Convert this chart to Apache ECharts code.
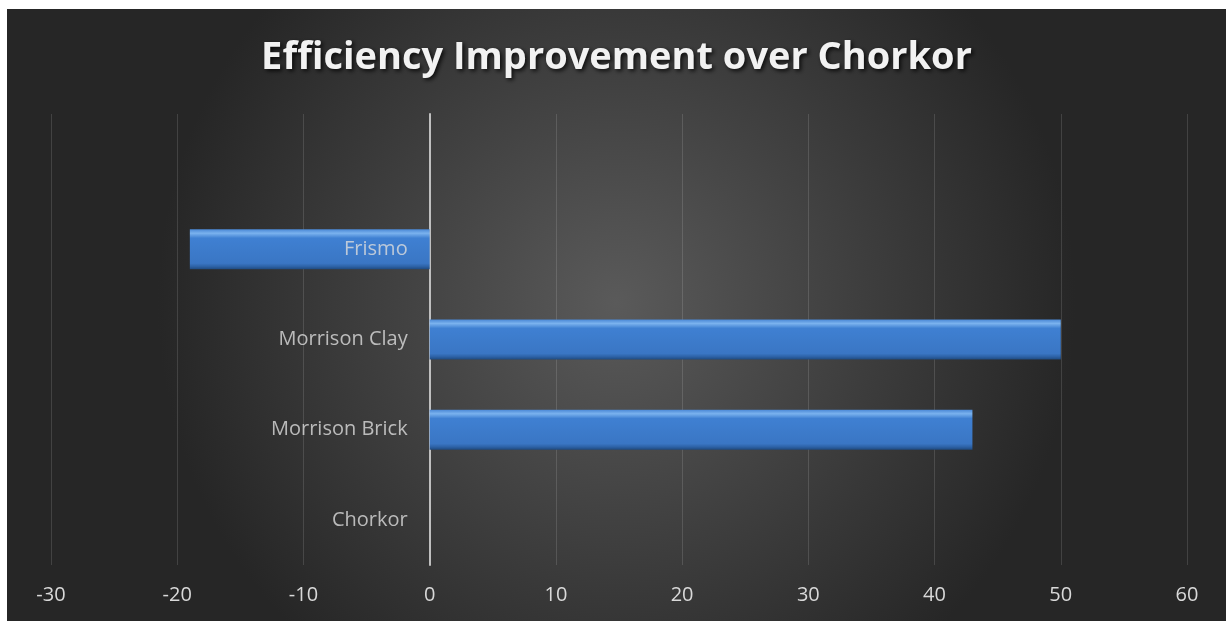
<!DOCTYPE html>
<html>
<head>
<meta charset="utf-8">
<script src="https://cdn.jsdelivr.net/npm/echarts@6/dist/echarts.min.js"></script>
<style>
html,body{margin:0;padding:0;background:#fff;width:1226px;height:621px;overflow:hidden;}
#c{position:absolute;left:7px;top:9px;width:1219px;height:612px;}
</style>
</head>
<body>
<div id="c"></div>
<script>
const titleText = 'Efficiency Improvement over Chorkor';
const categories = ['Chorkor', 'Morrison Brick', 'Morrison Clay', 'Frismo'];
const values = [0, 43, 50, -19];
const xMin = -30, xMax = 60, xStep = 10;

const chart = echarts.init(document.getElementById('c'), null, {renderer: 'canvas'});
const font = '"Open Sans", "DejaVu Sans", sans-serif';
chart.setOption({
  backgroundColor: {
    type: 'radial', x: 0.5, y: 0.48, r: 0.75,
    colorStops: [
      {offset: 0, color: '#5a5a5a'},
      {offset: 1, color: '#262626'}
    ]
  },
  title: {
    text: titleText,
    left: 'center',
    top: 25,
    textStyle: {
      color: '#f2f2f2', fontSize: 38, fontWeight: 'bold', fontFamily: font,
      textShadowColor: 'rgba(0,0,0,0.8)', textShadowBlur: 4, textShadowOffsetX: 2, textShadowOffsetY: 2
    }
  },
  grid: {left: 44, right: 39, top: 105, bottom: 56, containLabel: false, outerBoundsMode: 'none'},
  xAxis: {
    type: 'value', min: xMin, max: xMax, interval: xStep,
    axisLine: {show: false}, axisTick: {show: false},
    splitLine: {lineStyle: {color: 'rgba(255,255,255,0.13)', width: 1}},
    axisLabel: {color: '#d9d9d9', fontSize: 20, fontFamily: font, margin: 20}
  },
  yAxis: {
    type: 'category', data: categories, max: 4,
    axisLine: {onZero: true, lineStyle: {color: '#bfbfbf', width: 2}},
    axisTick: {show: false},
    axisLabel: {show: false}
  },
  series: [{
    type: 'bar', data: values, barWidth: 40,
    itemStyle: {
      color: {
        type: 'linear', x: 0, y: 0, x2: 0, y2: 1,
        colorStops: [
          {offset: 0, color: '#4a88d6'},
          {offset: 0.1, color: '#7ab2ee'},
          {offset: 0.22, color: '#3f80d2'},
          {offset: 0.85, color: '#3a76c4'},
          {offset: 0.93, color: '#2d62a6'},
          {offset: 1, color: '#1f4a80'}
        ]
      },
      borderWidth: 0,
      shadowColor: 'rgba(0,0,0,0.5)', shadowBlur: 5, shadowOffsetY: 2
    }
  }, {
    type: 'scatter', symbolSize: 0, silent: true,
    data: categories.map((c, i) => [0, i]),
    label: {
      show: true, position: 'left', distance: 22,
      formatter: p => categories[p.data[1]],
      color: '#dcdcdc', fontSize: 20, fontFamily: font
    },
    z: 5
  }]
});
</script>
</body>
</html>
